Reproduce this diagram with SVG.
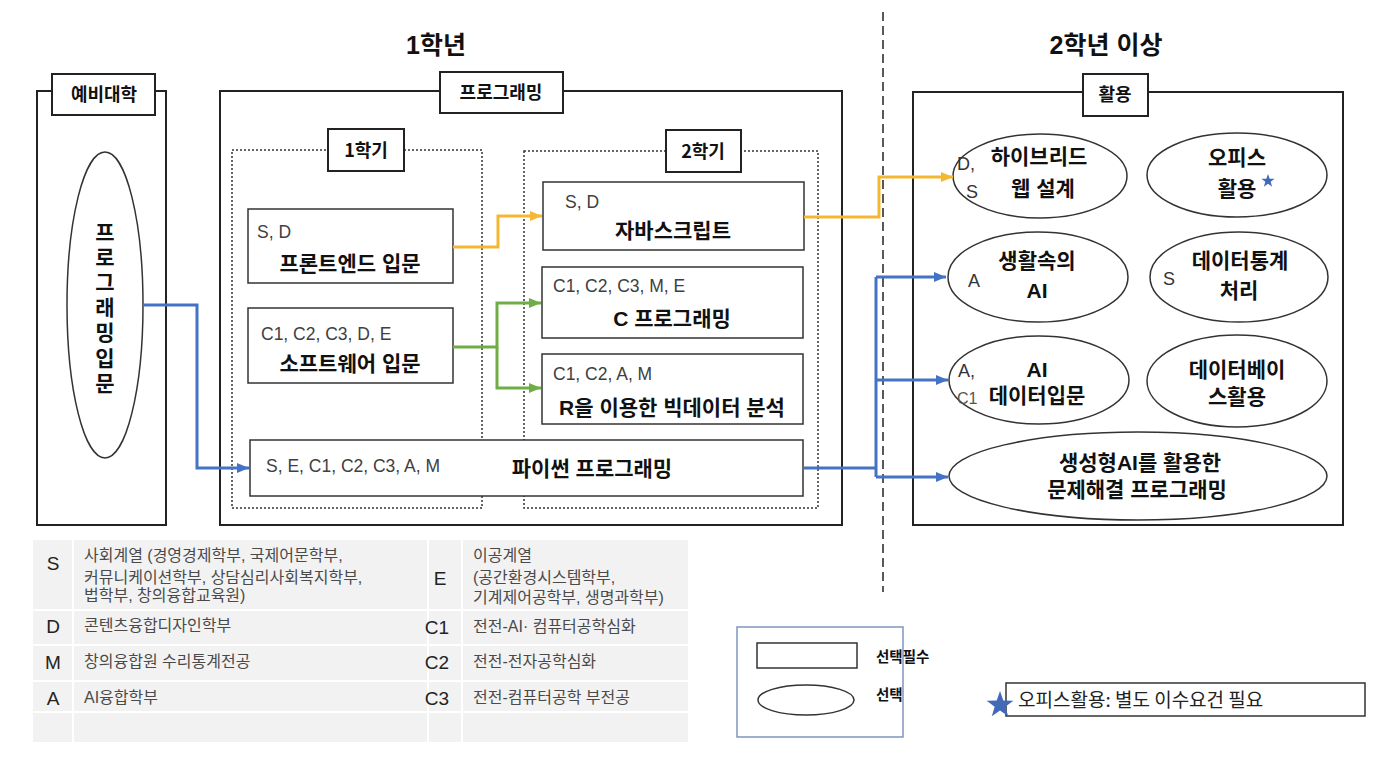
<svg xmlns="http://www.w3.org/2000/svg" width="1392" height="770" viewBox="0 0 1392 770">
<style>
.frame{fill:none;stroke:#222;stroke-width:2}
.lbl{fill:#fff;stroke:#222;stroke-width:2}
.dot{fill:none;stroke:#333;stroke-width:1.5;stroke-dasharray:2 2}
.course{fill:#fff;stroke:#333;stroke-width:1.5}
.ell{fill:#fff;stroke:#333;stroke-width:1.5}
.tb{font-family:"Liberation Sans","Noto Sans CJK KR",sans-serif;font-weight:bold;fill:#111;font-size:21px}
.tl{font-family:"Noto Sans CJK KR",sans-serif;font-weight:bold;fill:#111;font-size:18px;text-anchor:middle}
.code{font-family:"Liberation Sans","Noto Sans CJK KR",sans-serif;font-size:17.5px;fill:#404040}
.mid{text-anchor:middle}
.leg{font-family:"Liberation Sans","Noto Sans CJK KR",sans-serif;font-size:16px;fill:#4a4a4a}
.legk{font-family:"Liberation Sans",sans-serif;font-size:19px;fill:#222;text-anchor:middle}
.cell{fill:#f2f2f2}
.blue{fill:none;stroke:#4472c4;stroke-width:3}
.yel{fill:none;stroke:#f5b731;stroke-width:3}
.grn{fill:none;stroke:#70ad47;stroke-width:3}
</style>
<defs>
<marker id="ab" markerUnits="userSpaceOnUse" markerWidth="12" markerHeight="10" refX="12" refY="5" orient="auto"><path d="M0,0 L12,5 L0,10 z" fill="#4472c4"/></marker>
<marker id="ay" markerUnits="userSpaceOnUse" markerWidth="12" markerHeight="10" refX="12" refY="5" orient="auto"><path d="M0,0 L12,5 L0,10 z" fill="#f5b731"/></marker>
<marker id="ag" markerUnits="userSpaceOnUse" markerWidth="12" markerHeight="10" refX="12" refY="5" orient="auto"><path d="M0,0 L12,5 L0,10 z" fill="#70ad47"/></marker>
<polygon id="star" points="0,-10 2.35,-3.24 9.51,-3.09 3.8,1.24 5.88,8.09 0,4 -5.88,8.09 -3.8,1.24 -9.51,-3.09 -2.35,-3.24" fill="#4169b8"/>
</defs>
<rect width="1392" height="770" fill="#fff"/>

<!-- titles -->
<text x="436" y="54" class="tb mid" style="font-size:25px">1학년</text>
<text x="1106" y="54" class="tb mid" style="font-size:25px">2학년 이상</text>
<line x1="883" y1="12" x2="883" y2="592" stroke="#222" stroke-width="1.5" stroke-dasharray="9 5"/>

<!-- 예비대학 -->
<g id="prep">
<rect x="37" y="91" width="129" height="434" class="frame"/>
<rect x="52" y="74" width="103" height="41" class="lbl"/>
<text x="104" y="101" class="tl">예비대학</text>
</g>
<g id="intro">
<ellipse cx="105" cy="305" rx="38" ry="153" class="ell"/>
<text class="tb mid" style="font-size:21px"><tspan x="105" y="240">프</tspan><tspan x="105" y="265">로</tspan><tspan x="105" y="290">그</tspan><tspan x="105" y="315">래</tspan><tspan x="105" y="340">밍</tspan><tspan x="105" y="366">입</tspan><tspan x="105" y="391">문</tspan></text>
</g>

<!-- 프로그래밍 -->
<g id="programming">
<rect x="220" y="91" width="622" height="434" class="frame"/>
<rect x="440" y="72" width="123" height="41" class="lbl"/>
<text x="501" y="99" class="tl">프로그래밍</text>
</g>
<g id="sem1">
<rect x="232" y="150" width="250" height="358" class="dot"/>
<rect x="328" y="129" width="76" height="42" class="lbl"/>
<text x="366" y="157" class="tl">1학기</text>
</g>
<g id="sem2">
<rect x="524" y="151" width="294" height="357" class="dot"/>
<rect x="666" y="130" width="75" height="42" class="lbl"/>
<text x="703" y="158" class="tl">2학기</text>
</g>

<g id="frontend">
<rect x="248" y="209" width="205" height="74" class="course"/>
<text x="257" y="238" class="code">S, D</text>
<text x="350" y="271" class="tb mid">프론트엔드 입문</text>
</g>
<g id="software">
<rect x="248" y="308" width="205" height="75" class="course"/>
<text x="261" y="340" class="code">C1, C2, C3, D, E</text>
<text x="350" y="371" class="tb mid">소프트웨어 입문</text>
</g>
<g id="javascript">
<rect x="543" y="182" width="261" height="68" class="course"/>
<text x="565" y="208" class="code">S, D</text>
<text x="673" y="238" class="tb mid">자바스크립트</text>
</g>
<g id="cprog">
<rect x="542" y="267" width="261" height="71" class="course"/>
<text x="553" y="292" class="code">C1, C2, C3, M, E</text>
<text x="672" y="326" class="tb mid">C 프로그래밍</text>
</g>
<g id="rbig">
<rect x="542" y="354" width="261" height="70" class="course"/>
<text x="553" y="380" class="code">C1, C2, A, M</text>
<text x="672" y="415" class="tb mid">R을 이용한 빅데이터 분석</text>
</g>
<g id="python">
<rect x="250" y="440" width="553" height="56" class="course"/>
<text x="266" y="472" class="code">S, E, C1, C2, C3, A, M</text>
<text x="592" y="476" class="tb mid">파이썬 프로그래밍</text>
</g>

<!-- 활용 -->
<g id="apply">
<rect x="913" y="92" width="430" height="433" class="frame"/>
<rect x="1083" y="74" width="65" height="42" class="lbl"/>
<text x="1115" y="101" class="tl">활용</text>
</g>
<g id="hybrid">
<ellipse cx="1040" cy="176" rx="87" ry="42" class="ell"/>
<text x="957" y="170" class="code" style="font-size:18px;fill:#333">D,</text>
<text x="966" y="198" class="code" style="font-size:18px;fill:#333">S</text>
<text x="1039" y="164" class="tb mid">하이브리드</text>
<text x="1043" y="196" class="tb mid">웹 설계</text>
</g>
<g id="office">
<ellipse cx="1237" cy="175" rx="90" ry="42" class="ell"/>
<text x="1237" y="165" class="tb mid">오피스</text>
<text x="1237" y="196" class="tb mid">활용</text>
<use href="#star" transform="translate(1268,181) scale(0.7)"/>
</g>
<g id="lifeai">
<ellipse cx="1038" cy="277" rx="90" ry="45" class="ell"/>
<text x="968" y="287" class="code" style="font-size:18px;fill:#333">A</text>
<text x="1037" y="268" class="tb mid">생활속의</text>
<text x="1037" y="298" class="tb mid">AI</text>
</g>
<g id="datastat">
<ellipse cx="1239" cy="277" rx="89" ry="45" class="ell"/>
<text x="1163" y="285" class="code" style="font-size:18px;fill:#333">S</text>
<text x="1240" y="268" class="tb mid">데이터통계</text>
<text x="1239" y="298" class="tb mid">처리</text>
</g>
<g id="aidata">
<ellipse cx="1039" cy="380" rx="90" ry="44" class="ell"/>
<text x="958" y="377" class="code" style="font-size:18px;fill:#333">A,</text>
<text x="957" y="404" class="code" style="font-size:16px;fill:#555">C1</text>
<text x="1037" y="377" class="tb mid">AI</text>
<text x="1037" y="403" class="tb mid">데이터입문</text>
</g>
<g id="database">
<ellipse cx="1237" cy="381" rx="90" ry="46" class="ell"/>
<text x="1237" y="377" class="tb mid">데이터베이</text>
<text x="1237" y="404" class="tb mid">스활용</text>
</g>
<g id="genai">
<ellipse cx="1138" cy="476" rx="189" ry="44" class="ell"/>
<text x="1140" y="470" class="tb mid">생성형AI를 활용한</text>
<text x="1137" y="497" class="tb mid">문제해결 프로그래밍</text>
</g>

<!-- connectors -->
<g id="connectors">
<path d="M143,305 H197 V468 H249" class="blue" marker-end="url(#ab)"/>
<path d="M453,247 H498 V216 H542" class="yel" marker-end="url(#ay)"/>
<path d="M453,347 H497 V303 H541" class="grn" marker-end="url(#ag)"/>
<path d="M497,347 V388 H541" class="grn" marker-end="url(#ag)"/>
<path d="M804,217 H879 V177 H953" class="yel" marker-end="url(#ay)"/>
<path d="M803,468 H876" class="blue"/>
<path d="M876,277 V477" class="blue"/>
<path d="M876,277 H946" class="blue" marker-end="url(#ab)"/>
<path d="M876,380 H948" class="blue" marker-end="url(#ab)"/>
<path d="M876,477 H948" class="blue" marker-end="url(#ab)"/>
</g>

<!-- legend table -->
<g id="codes">
<rect x="33" y="540" width="39" height="69" class="cell"/>
<rect x="74" y="540" width="353" height="69" class="cell"/>
<rect x="429" y="540" width="32" height="69" class="cell"/>
<rect x="463" y="540" width="225" height="69" class="cell"/>
<rect x="33" y="611" width="39" height="33" class="cell"/>
<rect x="74" y="611" width="353" height="33" class="cell"/>
<rect x="429" y="611" width="32" height="33" class="cell"/>
<rect x="463" y="611" width="225" height="33" class="cell"/>
<rect x="33" y="646" width="39" height="34" class="cell"/>
<rect x="74" y="646" width="353" height="34" class="cell"/>
<rect x="429" y="646" width="32" height="34" class="cell"/>
<rect x="463" y="646" width="225" height="34" class="cell"/>
<rect x="33" y="682" width="39" height="29" class="cell"/>
<rect x="74" y="682" width="353" height="29" class="cell"/>
<rect x="429" y="682" width="32" height="29" class="cell"/>
<rect x="463" y="682" width="225" height="29" class="cell"/>
<rect x="33" y="713" width="39" height="29" class="cell"/>
<rect x="74" y="713" width="353" height="29" class="cell"/>
<rect x="429" y="713" width="32" height="29" class="cell"/>
<rect x="463" y="713" width="225" height="29" class="cell"/>
<text x="53" y="570" class="legk">S</text>
<text x="84" y="561" class="leg">사회계열 (경영경제학부, 국제어문학부,</text>
<text x="84" y="583" class="leg">커뮤니케이션학부, 상담심리사회복지학부,</text>
<text x="84" y="601" class="leg">법학부, 창의융합교육원)</text>
<text x="53" y="633" class="legk">D</text>
<text x="84" y="631" class="leg">콘텐츠융합디자인학부</text>
<text x="53" y="669" class="legk">M</text>
<text x="84" y="667" class="leg">창의융합원 수리통계전공</text>
<text x="53" y="705" class="legk">A</text>
<text x="84" y="703" class="leg">AI융합학부</text>
<text x="440" y="585" class="legk">E</text>
<text x="473" y="561" class="leg">이공계열</text>
<text x="473" y="583" class="leg">(공간환경시스템학부,</text>
<text x="473" y="603" class="leg">기계제어공학부, 생명과학부)</text>
<text x="437" y="634" class="legk">C1</text>
<text x="473" y="632" class="leg">전전-AI· 컴퓨터공학심화</text>
<text x="437" y="669" class="legk">C2</text>
<text x="473" y="667" class="leg">전전-전자공학심화</text>
<text x="437" y="705" class="legk">C3</text>
<text x="473" y="703" class="leg">전전-컴퓨터공학 부전공</text>
</g>

<!-- shape legend -->
<g id="shapelegend">
<rect x="737" y="627" width="166" height="110" fill="#fff" stroke="#7f95c0" stroke-width="1.5"/>
<rect x="757" y="643" width="100" height="25" fill="#fff" stroke="#333" stroke-width="1.5"/>
<ellipse cx="806" cy="700" rx="48" ry="15" class="ell"/>
<text x="876" y="662" class="tb" style="font-size:14.5px">선택필수</text>
<text x="876" y="700" class="tb" style="font-size:14.5px">선택</text>
</g>

<!-- note -->
<g id="note">
<rect x="1006" y="683" width="359" height="33" fill="#fff" stroke="#333" stroke-width="1.5"/>
<use href="#star" transform="translate(1000,705) scale(1.4)"/>
<text x="1018" y="707" style="font-family:'Noto Sans CJK KR',sans-serif;font-size:19px;fill:#222">오피스활용: 별도 이수요건 필요</text>
</g>
</svg>
